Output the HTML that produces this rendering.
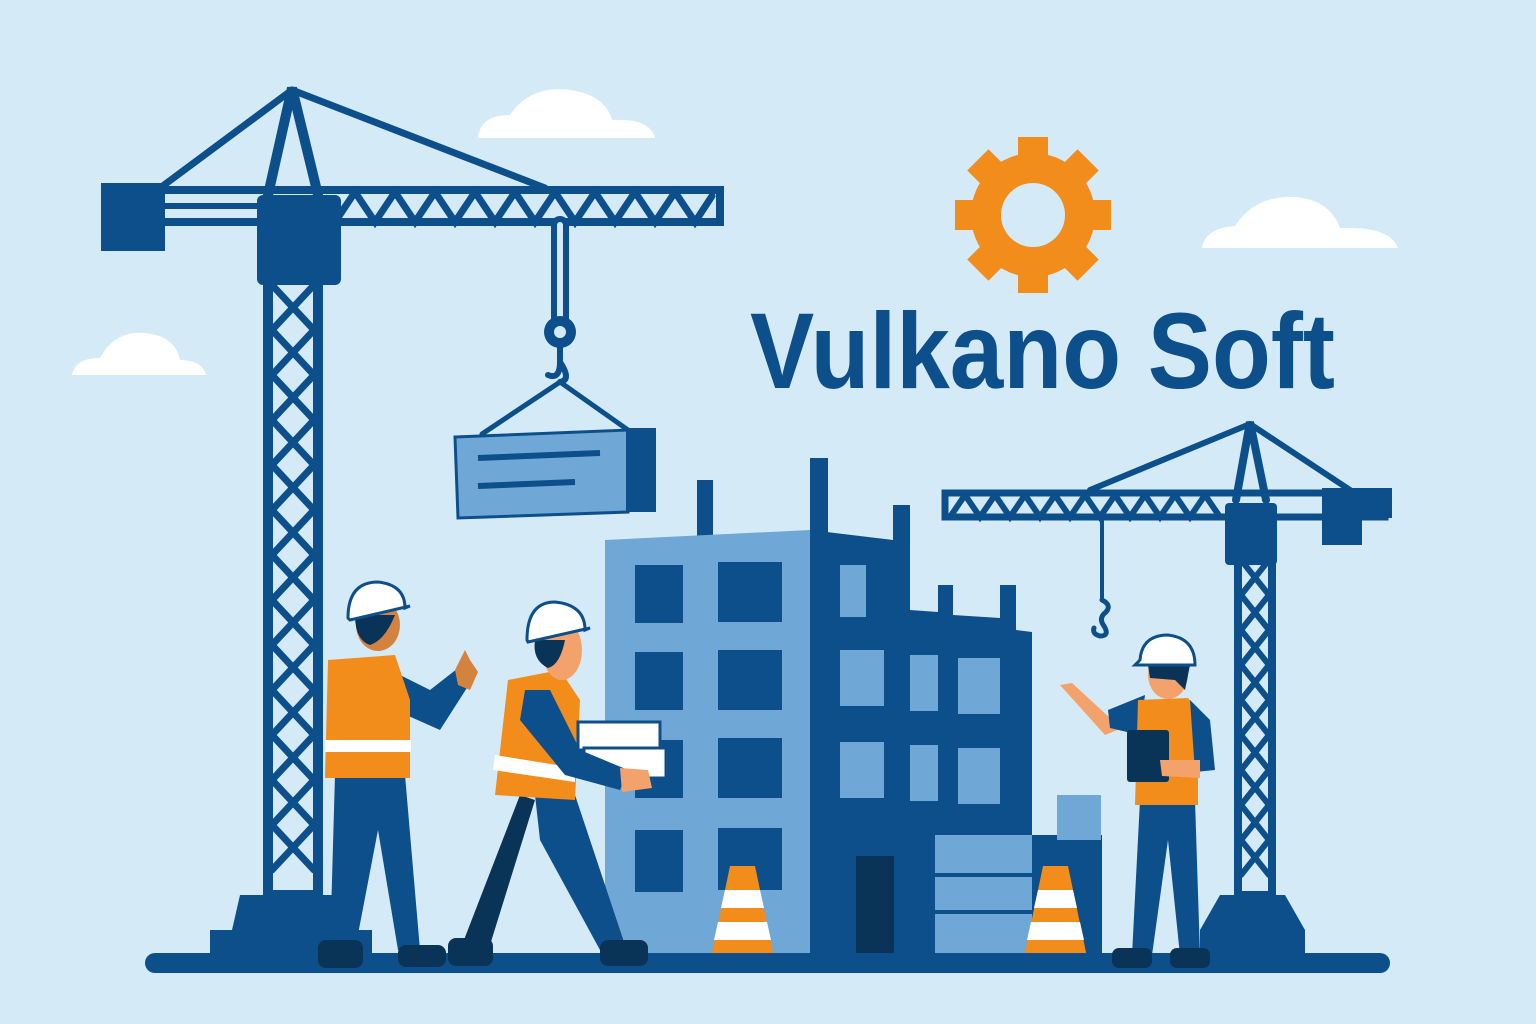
<!DOCTYPE html>
<html><head><meta charset="utf-8"><style>html,body{margin:0;padding:0;background:#d4ebf7}svg{display:block}</style></head>
<body>
<svg width="1536" height="1024" viewBox="0 0 1536 1024" xmlns="http://www.w3.org/2000/svg">
<rect width="1536" height="1024" fill="#d4ebf7"/>
<!-- clouds -->
<g fill="#fff">
<path d="M478 138 Q480 115 510 115 Q530 85 570 90 Q605 95 612 120 Q650 118 655 138 Z"/>
<path d="M1202 248 Q1205 228 1235 226 Q1255 195 1295 197 Q1330 200 1340 228 Q1390 226 1398 248 Z"/>
<path d="M72 375 Q75 358 100 358 Q115 330 145 333 Q175 336 180 360 Q202 360 206 375 Z"/>
</g>
<!-- gear -->
<g fill="#f28c1a" transform="translate(1033,215)">
<circle r="62"/>
<g id="t"><rect x="-15" y="-78" width="30" height="24"/></g>
<use href="#t" transform="rotate(45)"/><use href="#t" transform="rotate(90)"/><use href="#t" transform="rotate(135)"/>
<use href="#t" transform="rotate(180)"/><use href="#t" transform="rotate(225)"/><use href="#t" transform="rotate(270)"/><use href="#t" transform="rotate(315)"/>
<circle r="32" fill="#d4ebf7"/>
</g>
<text x="750" y="388" font-family="Liberation Sans, sans-serif" font-weight="bold" font-size="108" fill="#0d4f8b" textLength="585" lengthAdjust="spacingAndGlyphs">Vulkano Soft</text>

<!-- left crane -->
<g stroke="#0d4f8b" fill="none" stroke-linecap="round">
<line x1="292" y1="90" x2="160" y2="188" stroke-width="7"/>
<line x1="292" y1="90" x2="545" y2="188" stroke-width="7"/>
<path d="M268 195 L292 88 L318 195" stroke-width="10"/>
<rect x="268" y="280" width="50" height="615" stroke-width="10"/>
<polyline stroke-width="7" points="272,285 314,330 272,375 314,420 272,465 314,510 272,555 314,600 272,645 314,690 272,735 314,780 272,825 314,870"/>
<polyline stroke-width="7" points="314,285 272,330 314,375 272,420 314,465 272,510 314,555 272,600 314,645 272,690 314,735 272,780 314,825 272,870"/>
<rect x="160" y="190" width="560" height="32" stroke-width="8"/>
<polyline stroke-width="7" points="335,222 355,192 375,222 395,192 415,222 435,192 455,222 475,192 495,222 515,192 535,222 555,192 575,222 595,192 615,222 635,192 655,222 675,192 695,222 712,196"/>
<line x1="160" y1="206" x2="260" y2="206" stroke-width="6"/>
<line x1="560" y1="225" x2="560" y2="318" stroke-width="18"/>
<line x1="560" y1="225" x2="560" y2="318" stroke="#d4ebf7" stroke-width="6"/>
<path d="M560 345 L560 362 Q560 380 548 375 M560 362 Q572 380 560 382" stroke-width="6"/>
<line x1="560" y1="382" x2="482" y2="434" stroke-width="5"/>
<line x1="560" y1="382" x2="628" y2="430" stroke-width="5"/>
</g>
<g fill="#0d4f8b">
<rect x="101" y="183" width="64" height="68"/>
<rect x="257" y="195" width="84" height="90" rx="6"/>
<circle cx="560" cy="332" r="16"/>
<path d="M240 895 L345 895 L352 930 L372 930 L372 955 L210 955 L210 930 L232 930 Z"/>
</g>
<circle cx="560" cy="332" r="6" fill="#d4ebf7"/>
<!-- load -->
<path d="M455 437 L628 430 L628 512 L458 518 Z" fill="#6fa8d6" stroke="#0d4f8b" stroke-width="3"/>
<rect x="626" y="428" width="30" height="84" fill="#0d4f8b"/>
<line x1="478" y1="458" x2="600" y2="453" stroke="#0d4f8b" stroke-width="6"/>
<line x1="478" y1="486" x2="575" y2="482" stroke="#0d4f8b" stroke-width="6"/>

<!-- right crane -->
<g stroke="#0d4f8b" fill="none" stroke-linecap="round">
<line x1="1250" y1="424" x2="1090" y2="490" stroke-width="6"/>
<line x1="1250" y1="424" x2="1350" y2="490" stroke-width="6"/>
<path d="M1236 500 L1250 422 L1266 500" stroke-width="8"/>
<rect x="1238" y="555" width="34" height="340" stroke-width="8"/>
<polyline stroke-width="6" points="1241,560 1269,595 1241,630 1269,665 1241,700 1269,735 1241,770 1269,805 1241,840 1269,875"/>
<polyline stroke-width="6" points="1269,560 1241,595 1269,630 1241,665 1269,700 1241,735 1269,770 1241,805 1269,840 1241,875"/>
<rect x="945" y="493" width="440" height="24" stroke-width="7"/>
<polyline stroke-width="6" points="950,517 965,495 980,517 995,495 1010,517 1025,495 1040,517 1055,495 1070,517 1085,495 1100,517 1115,495 1130,517 1145,495 1160,517 1175,495 1190,517 1205,495 1220,517"/>
<line x1="1102" y1="520" x2="1102" y2="600" stroke-width="4"/>
<path d="M1102 600 Q1112 605 1106 612 Q1098 618 1104 626 Q1110 636 1100 636 Q1092 634 1094 628" stroke-width="5"/>
</g>
<g fill="#0d4f8b">
<rect x="1322" y="488" width="70" height="30"/><rect x="1322" y="500" width="40" height="45"/>
<rect x="1225" y="503" width="52" height="62" rx="4"/>
<path d="M1220 895 L1285 895 L1305 930 L1305 955 L1200 955 L1200 930 Z"/>
</g>

<!-- building -->
<g fill="#0d4f8b">
<rect x="697" y="480" width="16" height="60"/>
<rect x="810" y="458" width="18" height="80"/>
<path d="M810 530 L893 540 L893 505 L910 505 L910 610 L938 612 L938 585 L953 585 L953 615 L1000 618 L1000 585 L1016 585 L1016 630 L1032 632 L1032 955 L810 955 Z"/>
</g>
<path d="M605 540 L810 530 L810 955 L605 955 Z" fill="#6fa8d6"/>
<g fill="#0d4f8b">
<rect x="635" y="565" width="48" height="58"/><rect x="718" y="562" width="64" height="60"/>
<rect x="635" y="652" width="48" height="58"/><rect x="718" y="650" width="64" height="60"/>
<rect x="635" y="740" width="48" height="58"/><rect x="718" y="738" width="64" height="60"/>
<rect x="635" y="830" width="48" height="62"/><rect x="718" y="828" width="64" height="62"/>
</g>
<g fill="#6fa8d6">
<rect x="840" y="565" width="26" height="52"/>
<rect x="840" y="650" width="44" height="56"/><rect x="910" y="655" width="28" height="56"/><rect x="958" y="658" width="42" height="56"/>
<rect x="840" y="742" width="44" height="56"/><rect x="910" y="745" width="28" height="56"/><rect x="958" y="748" width="42" height="56"/>
</g>
<rect x="856" y="856" width="38" height="98" fill="#0a3358"/>
<rect x="935" y="835" width="100" height="120" fill="#6fa8d6"/>
<rect x="1032" y="835" width="70" height="120" fill="#0d4f8b"/>
<rect x="1057" y="795" width="44" height="45" fill="#6fa8d6"/>
<g stroke="#0d4f8b" stroke-width="4"><line x1="935" y1="875" x2="1032" y2="875"/><line x1="935" y1="912" x2="1032" y2="912"/></g>

<!-- cones -->
<g>
<path d="M730 866 L755 866 L775 962 L710 962 Z" fill="#f28c1a"/>
<path d="M725 890 L760 890 L764 908 L721 908 Z M718 922 L767 922 L771 940 L714 940 Z" fill="#fff"/>
<rect x="704" y="960" width="78" height="8" fill="#f28c1a"/>
<path d="M1043 866 L1068 866 L1088 962 L1023 962 Z" fill="#f28c1a"/>
<path d="M1038 890 L1073 890 L1077 908 L1034 908 Z M1031 922 L1080 922 L1084 940 L1027 940 Z" fill="#fff"/>
<rect x="1017" y="960" width="78" height="8" fill="#f28c1a"/>
</g>

<!-- ground -->
<rect x="145" y="953" width="1245" height="20" rx="10" fill="#0d4f8b"/>

<!-- worker 1 -->
<g>
<path d="M335 775 L405 775 L420 950 L398 950 L378 830 L355 950 L330 950 Z" fill="#0d4f8b"/>
<rect x="318" y="940" width="45" height="28" rx="8" fill="#0a3358"/>
<rect x="398" y="945" width="48" height="22" rx="8" fill="#0a3358"/>
<path d="M390 670 L430 690 L462 665 L472 680 L440 730 L395 710 Z" fill="#0d4f8b"/>
<path d="M455 670 L465 650 L470 660 L478 672 L470 690 L458 685 Z" fill="#d4833f"/>
<path d="M328 660 L395 655 L410 700 L410 778 L325 778 Z" fill="#f28c1a"/>
<rect x="325" y="740" width="86" height="12" fill="#fff"/>
<ellipse cx="378" cy="625" rx="22" ry="26" fill="#d4833f"/>
<path d="M355 615 L395 615 Q385 640 370 645 Q355 640 355 615Z" fill="#0a3358"/>
<path d="M348 618 Q348 582 378 582 Q405 585 405 608 L410 606 L350 620 Z" fill="#fff" stroke="#0d4f8b" stroke-width="3"/>
</g>
<!-- worker 2 -->
<g>
<path d="M520 795 L535 800 L490 945 L462 945 Z" fill="#0a3358"/>
<path d="M535 795 L575 795 L625 945 L600 950 L540 840 Z" fill="#0d4f8b"/>
<rect x="448" y="938" width="45" height="28" rx="8" fill="#0a3358"/>
<rect x="600" y="940" width="48" height="26" rx="8" fill="#0a3358"/>
<path d="M508 680 L560 670 L580 700 L575 800 L495 795 Z" fill="#f28c1a"/>
<path d="M495 755 L575 768 L575 782 L493 770 Z" fill="#fff"/>
<rect x="578" y="722" width="82" height="28" fill="#fff" stroke="#0d4f8b" stroke-width="3"/>
<rect x="584" y="748" width="82" height="30" fill="#fff" stroke="#0d4f8b" stroke-width="3"/>
<path d="M525 690 L550 690 L580 750 L628 770 L620 790 L565 775 L520 720 Z" fill="#0d4f8b"/>
<path d="M620 768 L648 770 L652 788 L622 792 Z" fill="#f4a26b"/>
<ellipse cx="562" cy="650" rx="20" ry="30" fill="#f4a26b"/>
<path d="M535 640 L565 640 Q560 665 548 668 Q532 660 535 640Z" fill="#0a3358"/>
<path d="M527 640 Q527 602 555 602 Q585 605 585 630 L590 628 L528 642 Z" fill="#fff" stroke="#0d4f8b" stroke-width="3"/>
</g>
<!-- worker 3 -->
<g>
<path d="M1140 800 L1195 800 L1200 955 L1180 955 L1168 840 L1152 955 L1132 955 Z" fill="#0d4f8b"/>
<rect x="1112" y="948" width="40" height="20" rx="7" fill="#0a3358"/>
<rect x="1170" y="948" width="40" height="20" rx="7" fill="#0a3358"/>
<path d="M1060 685 L1072 683 L1110 718 L1130 705 L1130 725 L1105 735 Z" fill="#f4a26b"/>
<path d="M1108 710 L1145 695 L1140 735 L1110 728 Z" fill="#0d4f8b"/>
<path d="M1138 700 L1188 698 L1198 710 L1198 805 L1135 805 Z" fill="#f28c1a"/>
<path d="M1190 700 L1210 720 L1215 770 L1195 772 Z" fill="#0d4f8b"/>
<rect x="1127" y="730" width="42" height="52" rx="3" fill="#0a3358"/>
<path d="M1160 760 L1200 760 L1200 778 L1162 776 Z" fill="#f4a26b"/>
<ellipse cx="1168" cy="675" rx="20" ry="24" fill="#f4a26b"/>
<path d="M1148 665 L1190 665 L1185 690 L1175 680 L1150 678 Z" fill="#0a3358"/>
<path d="M1140 660 Q1142 635 1168 635 Q1195 638 1195 665 L1135 665 Z" fill="#fff" stroke="#0d4f8b" stroke-width="3"/>
</g>
</svg>
</body></html>
